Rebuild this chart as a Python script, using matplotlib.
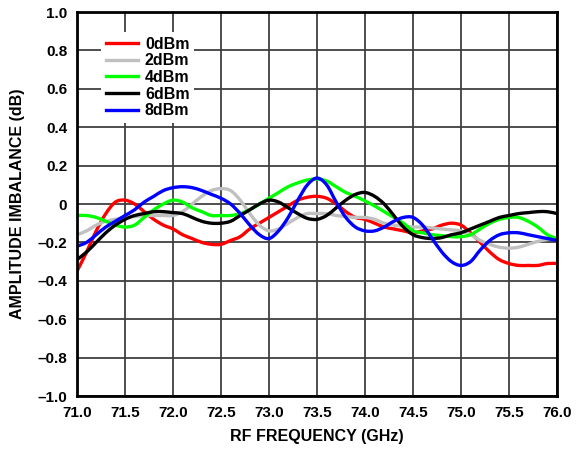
import numpy as np
import matplotlib
matplotlib.use("Agg")
import matplotlib.pyplot as plt
from matplotlib.ticker import FuncFormatter
from matplotlib.path import Path
from matplotlib.patches import PathPatch
from matplotlib.lines import Line2D

freq = np.round(np.arange(71.0, 76.0001, 0.1), 1)

p0 = [-0.35, -0.25, -0.14, -0.05, 0.01, 0.02, 0.00, -0.04, -0.08, -0.11,
      -0.13, -0.16, -0.18, -0.20, -0.21, -0.21, -0.19, -0.17, -0.13, -0.10,
      -0.07, -0.04, -0.01, 0.02, 0.035, 0.04, 0.03, 0.00, -0.04, -0.07,
      -0.08, -0.10, -0.12, -0.13, -0.14, -0.15, -0.14, -0.13, -0.11, -0.10,
      -0.11, -0.15, -0.20, -0.25, -0.29, -0.31, -0.32, -0.32, -0.32, -0.31, -0.31]
p2 = [-0.16, -0.14, -0.11, -0.09, -0.08, -0.07, -0.065, -0.06, -0.06, -0.06,
      -0.06, -0.04, 0.00, 0.04, 0.07, 0.08, 0.07, 0.02, -0.05, -0.11,
      -0.14, -0.13, -0.10, -0.07, -0.05, -0.05, -0.05, -0.06, -0.065, -0.07,
      -0.07, -0.08, -0.10, -0.11, -0.115, -0.12, -0.12, -0.125, -0.13, -0.135,
      -0.14, -0.16, -0.19, -0.21, -0.225, -0.23, -0.225, -0.21, -0.195, -0.185, -0.18]
p4 = [-0.06, -0.06, -0.07, -0.09, -0.11, -0.12, -0.11, -0.07, -0.03, 0.00,
      0.02, 0.01, -0.02, -0.04, -0.06, -0.06, -0.06, -0.05, -0.03, 0.00,
      0.03, 0.06, 0.09, 0.11, 0.125, 0.13, 0.12, 0.09, 0.06, 0.04,
      0.016, -0.01, -0.04, -0.07, -0.10, -0.14, -0.15, -0.16, -0.165, -0.17,
      -0.17, -0.16, -0.13, -0.10, -0.08, -0.07, -0.07, -0.09, -0.12, -0.16, -0.18]
p6 = [-0.29, -0.25, -0.20, -0.15, -0.11, -0.08, -0.06, -0.05, -0.04, -0.04,
      -0.045, -0.05, -0.07, -0.09, -0.10, -0.10, -0.09, -0.06, -0.03, 0.00,
      0.02, 0.01, -0.02, -0.05, -0.075, -0.08, -0.06, -0.02, 0.02, 0.05,
      0.06, 0.04, 0.00, -0.06, -0.12, -0.16, -0.175, -0.18, -0.175, -0.16,
      -0.15, -0.13, -0.11, -0.09, -0.07, -0.06, -0.05, -0.045, -0.04, -0.04, -0.05]
p8 = [-0.22, -0.20, -0.16, -0.12, -0.09, -0.06, -0.03, 0.01, 0.04, 0.07,
      0.085, 0.09, 0.085, 0.07, 0.05, 0.03, 0.00, -0.05, -0.11, -0.16,
      -0.18, -0.14, -0.07, 0.02, 0.10, 0.135, 0.10, 0.01, -0.07, -0.12,
      -0.14, -0.14, -0.12, -0.09, -0.07, -0.07, -0.11, -0.18, -0.25, -0.30,
      -0.32, -0.30, -0.24, -0.19, -0.16, -0.15, -0.15, -0.16, -0.17, -0.18, -0.19]

labels = ["0dBm", "2dBm", "4dBm", "6dBm", "8dBm"]
colors = ["#ff0000", "#c0c0c0", "#00ff00", "#000000", "#0000ff"]
series = [p0, p2, p4, p6, p8]

xticks = [71.0, 71.5, 72.0, 72.5, 73.0, 73.5, 74.0, 74.5, 75.0, 75.5, 76.0]
yticks = [-1.0, -0.8, -0.6, -0.4, -0.2, 0, 0.2, 0.4, 0.6, 0.8, 1.0]

plt.rcParams['font.family'] = ['Liberation Sans', 'DejaVu Sans']
plt.rcParams['font.weight'] = 'bold'


def smooth_path(x, y):
    """Catmull-Rom curve through the data points, drawn as cubic Bezier segments."""
    x = np.asarray(x, float)
    y = np.asarray(y, float)
    n = len(x)
    verts = [(x[0], y[0])]
    codes = [Path.MOVETO]
    for i in range(n - 1):
        x0, y0 = (x[i - 1], y[i - 1]) if i > 0 else (x[i], y[i])
        x1, y1 = x[i], y[i]
        x2, y2 = x[i + 1], y[i + 1]
        x3, y3 = (x[i + 2], y[i + 2]) if i + 2 < n else (x2, y2)
        c1 = (x1 + (x2 - x0) / 6.0, y1 + (y2 - y0) / 6.0)
        c2 = (x2 - (x3 - x1) / 6.0, y2 - (y3 - y1) / 6.0)
        verts += [c1, c2, (x2, y2)]
        codes += [Path.CURVE4] * 3
    return Path(verts, codes)


fig = plt.figure(figsize=(5.82, 4.5), dpi=100)
ax = fig.add_axes([77/582, 1 - 396/450, (557-77)/582, (396-12)/450])

handles = []
for y, c, l in zip(series, colors, labels):
    patch = PathPatch(smooth_path(freq, y), facecolor='none', edgecolor=c,
                      lw=2.4, capstyle='round', joinstyle='round', zorder=3)
    ax.add_patch(patch)
    handles.append(Line2D([], [], color=c, lw=2.4, label=l))

ax.set_xlim(71.0, 76.0)
ax.set_ylim(-1.0, 1.0)
ax.set_xticks(xticks)
ax.set_yticks(yticks)
ax.xaxis.set_major_formatter(FuncFormatter(lambda v, p: f"{v:.1f}"))


def yfmt(v, p):
    if abs(v) < 1e-9:
        return "0"
    return f"{v:.1f}".replace("-", "\u2013")


ax.yaxis.set_major_formatter(FuncFormatter(yfmt))
ax.tick_params(length=0, labelsize=11)
ax.tick_params(axis='x', pad=7)
ax.tick_params(axis='y', pad=7)
for lab in ax.get_xticklabels() + ax.get_yticklabels():
    lab.set_fontweight('bold')
ax.grid(True, color='#404040', lw=1.3)
ax.set_axisbelow(True)
for s in ax.spines.values():
    s.set_linewidth(2.0)
    s.set_color('black')
    s.set_zorder(5)

ax.set_xlabel("RF FREQUENCY (GHz)", fontsize=11.5, fontweight='bold', va='center')
ax.xaxis.set_label_coords(0.5, (396 - 437) / 384)
ax.set_ylabel("AMPLITUDE IMBALANCE (dB)", fontsize=11.5, fontweight='bold', va='center')
ax.yaxis.set_label_coords((18 - 77) / 480, 0.5)

leg = ax.legend(handles=handles, loc='upper left',
                bbox_to_anchor=((101 - 77) / 480, (396 - 32) / 384), frameon=True,
                fancybox=False, edgecolor='none', facecolor='white', framealpha=1,
                handlelength=2.0, handletextpad=0.45,
                labelspacing=0.1, borderpad=0.3, borderaxespad=0,
                prop={'weight': 'bold', 'size': 11.5})
leg.set_zorder(6)

fig.savefig("out.png", dpi=100)
